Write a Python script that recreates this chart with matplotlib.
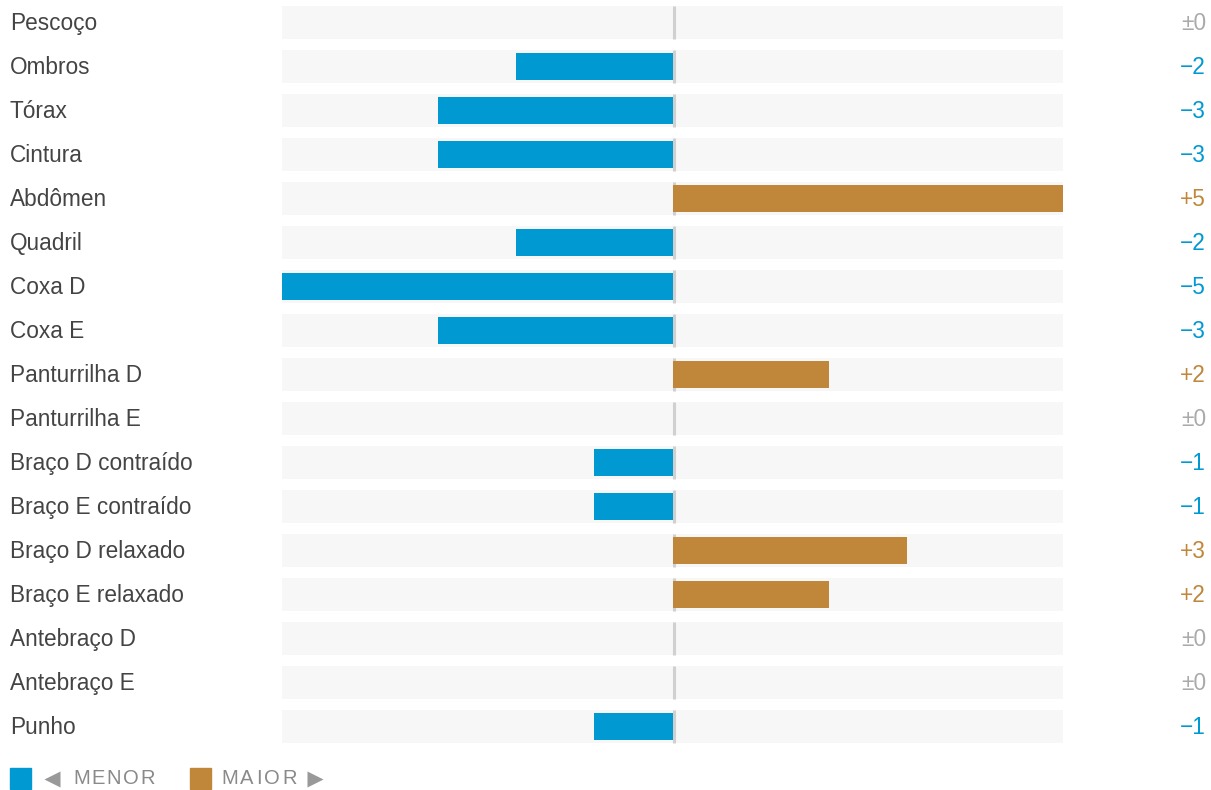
import matplotlib.pyplot as plt

medidas = ['Pescoço', 'Ombros', 'Tórax', 'Cintura', 'Abdômen', 'Quadril',
           'Coxa D', 'Coxa E', 'Panturrilha D', 'Panturrilha E',
           'Braço D contraído', 'Braço E contraído', 'Braço D relaxado',
           'Braço E relaxado', 'Antebraço D', 'Antebraço E', 'Punho']
diferenca = [0, -2, -3, -3, 5, -2, -5, -3, 2, 0, -1, -1, 3, 2, 0, 0, -1]

azul = '#0099d2'
laranja = '#c0873a'
cinza = '#aaaaaa'

plt.rcParams['font.family'] = ['Liberation Sans', 'DejaVu Sans']

W, H = 1211, 790
fig = plt.figure(figsize=(W / 100, H / 100), dpi=100)

# eixo principal das barras
ax = fig.add_axes([282 / W, (H - 748.5) / H, 781 / W, 748 / H])
n = len(medidas)
pos = list(range(n))
ax.barh(pos, [10] * n, left=-5, height=0.75, color='#f7f7f7', zorder=1)
ax.vlines([0.02] * n, [p - 0.375 for p in pos], [p + 0.375 for p in pos],
          color='#d0d0d0', lw=2.2, zorder=2)
cores = [azul if v < 0 else laranja for v in diferenca]
ax.barh(pos, diferenca, height=0.6, color=cores, zorder=3)
ax.set_xlim(-5, 5)
ax.set_ylim(n - 0.5, -0.5)
ax.axis('off')

# textos em coordenadas de pixel
ov = fig.add_axes([0, 0, 1, 1], zorder=-1)
ov.set_xlim(0, W)
ov.set_ylim(H, 0)
ov.axis('off')

for i, (nome, v) in enumerate(zip(medidas, diferenca)):
    y = 23.5 + i * 44
    ov.text(10, y, nome, fontsize=16.3, color='#444444', va='center', ha='left')
    if v > 0:
        txt, c = '+%d' % v, laranja
    elif v < 0:
        txt, c = '\u2212%d' % abs(v), azul
    else:
        txt, c = '\u00b10', cinza
    ov.text(1206, y, txt, fontsize=16.3, color=c, va='center', ha='right')

# legenda com espaçamento entre letras
renderer = fig.canvas.get_renderer()


def espacado(x0, y, palavra, largura):
    letras = []
    total = 0
    for ch in palavra:
        t = ov.text(x0, y, ch, fontsize=14.5, color='#8a8a8a', va='center', ha='left')
        w = t.get_window_extent(renderer).width
        letras.append((t, w))
        total += w
    gap = (largura - total) / (len(palavra) - 1)
    x = x0
    for t, w in letras:
        t.set_x(x)
        x += w + gap


ly = 778.5
ov.add_patch(plt.Rectangle((10, 768), 21, 21, color=azul))
ov.plot([52], [ly], marker='<', color='#999999', ms=12, mec='none')
espacado(73, ly, 'MENOR', 82)
ov.add_patch(plt.Rectangle((190, 768), 21, 21, color=laranja))
espacado(221, ly, 'MAIOR', 76)
ov.plot([315], [ly], marker='>', color='#999999', ms=12, mec='none')

fig.savefig('out.png', dpi=100)
